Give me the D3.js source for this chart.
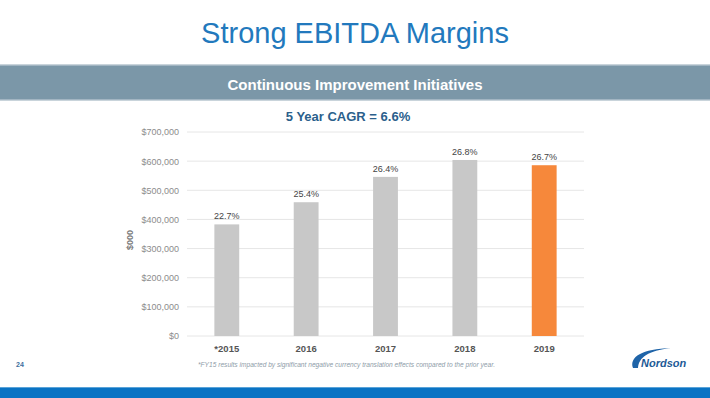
<!DOCTYPE html>
<html>
<head>
<meta charset="utf-8">
<script src="https://cdn.jsdelivr.net/npm/d3@7"></script>
<style>
  html, body { margin: 0; padding: 0; background: #ffffff; }
  svg { display: block; font-family: "Liberation Sans", Arial, sans-serif; }
</style>
</head>
<body>
<svg id="chart" width="710" height="398"></svg>
<script>
// ---- Data ----
const categories = ["*2015", "2016", "2017", "2018", "2019"];
const ebitdaValues = [383000, 459000, 546000, 604000, 586000];
const marginLabels = ["22.7%", "25.4%", "26.4%", "26.8%", "26.7%"];
const highlightCategory = "2019";
const yTicks = [0, 100000, 200000, 300000, 400000, 500000, 600000, 700000];

const titleText = "Strong EBITDA Margins";
const bandText = "Continuous Improvement Initiatives";
const cagrText = "5 Year CAGR = 6.6%";
const yAxisTitle = "$000";
const footnote = "*FY15 results impacted by significant negative currency translation effects compared to the prior year.";
const pageNumber = "24";

// ---- Layout ----
const svg = d3.select("#chart");
const W = 710, H = 398;
const plot = { left: 187, right: 584, top: 132, bottom: 336 };

// Title
svg.append("text")
  .attr("x", 355).attr("y", 43)
  .attr("text-anchor", "middle")
  .attr("font-size", 29)
  .attr("fill", "#2279bd")
  .text(titleText);

// Grey band
svg.append("rect").attr("x", 0).attr("y", 65).attr("width", W).attr("height", 35)
  .attr("fill", "#7b97a8");
svg.append("rect").attr("x", 0).attr("y", 64).attr("width", W).attr("height", 1.5)
  .attr("fill", "#c9d4db");
svg.append("rect").attr("x", 0).attr("y", 99.5).attr("width", W).attr("height", 1.5)
  .attr("fill", "#c9d4db");
svg.append("text")
  .attr("x", 355).attr("y", 90)
  .attr("text-anchor", "middle")
  .attr("font-size", 15).attr("font-weight", "bold")
  .attr("fill", "#ffffff")
  .text(bandText);

// CAGR subtitle
svg.append("text")
  .attr("x", 348).attr("y", 121)
  .attr("text-anchor", "middle")
  .attr("font-size", 13).attr("font-weight", "bold")
  .attr("fill", "#2b5f8c")
  .text(cagrText);

// Scales
const x = d3.scaleBand()
  .domain(categories)
  .range([plot.left, plot.right])
  .paddingInner(0.687)
  .paddingOuter(0.345);

const y = d3.scaleLinear()
  .domain([0, 700000])
  .range([plot.bottom, plot.top]);

// Gridlines
svg.append("g")
  .selectAll("line")
  .data(yTicks)
  .join("line")
  .attr("x1", plot.left).attr("x2", plot.right)
  .attr("y1", d => y(d)).attr("y2", d => y(d))
  .attr("stroke", "#e6e6e6").attr("stroke-width", 1);

// Y axis (labels only)
const yAxis = d3.axisLeft(y)
  .tickValues(yTicks)
  .tickSize(0)
  .tickPadding(8)
  .tickFormat(d => "$" + d3.format(",")(d));
const yG = svg.append("g")
  .attr("transform", `translate(${plot.left},0)`)
  .call(yAxis);
yG.select(".domain").remove();
yG.selectAll("text")
  .attr("font-size", 9)
  .attr("font-family", "Liberation Sans, Arial, sans-serif")
  .attr("fill", "#8c8c8c");

// Y axis title
svg.append("text")
  .attr("transform", "translate(133,240) rotate(-90)")
  .attr("text-anchor", "middle")
  .attr("font-size", 9).attr("font-weight", "bold")
  .attr("fill", "#7a7a7a")
  .text(yAxisTitle);

// Bars
const data = categories.map((c, i) => ({ cat: c, value: ebitdaValues[i], label: marginLabels[i] }));
svg.append("g")
  .selectAll("rect")
  .data(data)
  .join("rect")
  .attr("x", d => x(d.cat))
  .attr("y", d => y(d.value))
  .attr("width", x.bandwidth())
  .attr("height", d => y(0) - y(d.value))
  .attr("fill", d => d.cat === highlightCategory ? "#f6883b" : "#c8c8c8");

// Bar labels
svg.append("g")
  .selectAll("text")
  .data(data)
  .join("text")
  .attr("x", d => x(d.cat) + x.bandwidth() / 2)
  .attr("y", d => y(d.value) - 5)
  .attr("text-anchor", "middle")
  .attr("font-size", 9)
  .attr("fill", "#444444")
  .text(d => d.label);

// X axis labels
const xAxis = d3.axisBottom(x).tickSize(0).tickPadding(9);
const xG = svg.append("g")
  .attr("transform", `translate(0,${plot.bottom})`)
  .call(xAxis);
xG.select(".domain").remove();
xG.selectAll("text")
  .attr("font-size", 9.5).attr("font-weight", "bold")
  .attr("font-family", "Liberation Sans, Arial, sans-serif")
  .attr("fill", "#555555");

// Footnote
svg.append("text")
  .attr("x", 198).attr("y", 367)
  .attr("font-size", 6.5).attr("font-style", "italic")
  .attr("textLength", 297).attr("lengthAdjust", "spacingAndGlyphs")
  .attr("fill", "#8e9ca8")
  .text(footnote);

// Page number
svg.append("text")
  .attr("x", 16).attr("y", 367)
  .attr("font-size", 7).attr("font-weight", "bold")
  .attr("fill", "#3d6f9e")
  .text(pageNumber);

// Nordson logo
svg.append("path")
  .attr("d", "M633,368 C629,357 642,349 671,348 C648,351 639,357 638,368 Z")
  .attr("fill", "#1f64a8");
svg.append("text")
  .attr("x", 641).attr("y", 367)
  .attr("font-size", 11).attr("font-weight", "bold").attr("font-style", "italic")
  .attr("fill", "#1d5a96")
  .text("Nordson");

// Bottom bar
svg.append("rect").attr("x", 0).attr("y", 388).attr("width", W).attr("height", 10)
  .attr("fill", "#0a73c4");
svg.append("rect").attr("x", 0).attr("y", 387).attr("width", W).attr("height", 1)
  .attr("fill", "#5aa3d8");
</script>
</body>
</html>
